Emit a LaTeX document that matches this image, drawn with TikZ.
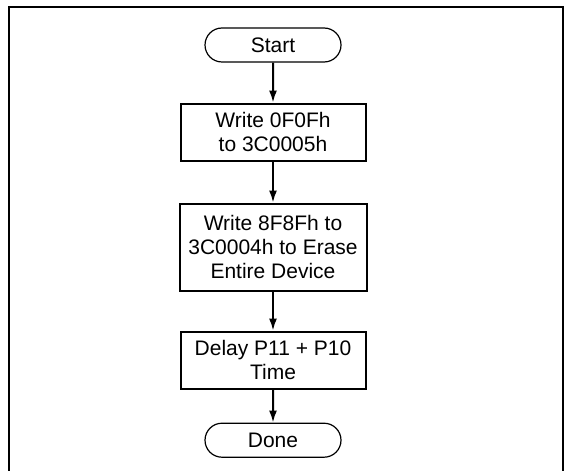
\documentclass[tikz,border=0pt]{standalone}
\usepackage{fontspec}
\setmainfont{Liberation Sans}
\usetikzlibrary{positioning,shapes.misc,arrows.meta}

\begin{document}
\begin{tikzpicture}[x=0.5pt,y=-0.5pt,
		font=\fontsize{10.5}{12}\selectfont,
		terminal/.style={draw,line width=0.6pt,rounded rectangle,minimum width=68pt,minimum height=17pt,inner sep=0pt},
		process/.style={draw,line width=1pt,rectangle,align=center,minimum width=92.5pt,minimum height=28.5pt,inner sep=0pt},
		flow/.style={black,line width=1pt,-{Latex[length=6pt,width=4pt]}}]
			\useasboundingbox (0,0) rectangle (571,470);
			\clip (0,0) rectangle (571,470);
			\draw [line width=1.2pt] (9,7) rectangle (563,500);
			\node [terminal] (start) at (273,45) {Start};
			\node [process, below=20pt of start] (writeA) {Write 0F0Fh\\to 3C0005h};
			\node [process, below=20.5pt of writeA, minimum width=93.5pt, minimum height=43.5pt] (writeB) {Write 8F8Fh to\\3C0004h to Erase\\Entire Device};
			\node [process, below=19.5pt of writeB] (delay) {Delay P11 + P10\\Time};
			\node [terminal, below=16.5pt of delay] (done) {Done};
			\draw [flow] (start) -- (writeA);
			\draw [flow] (writeA) -- (writeB);
			\draw [flow] (writeB) -- (delay);
			\draw [flow] (delay) -- (done);
		\end{tikzpicture}
\end{document}
